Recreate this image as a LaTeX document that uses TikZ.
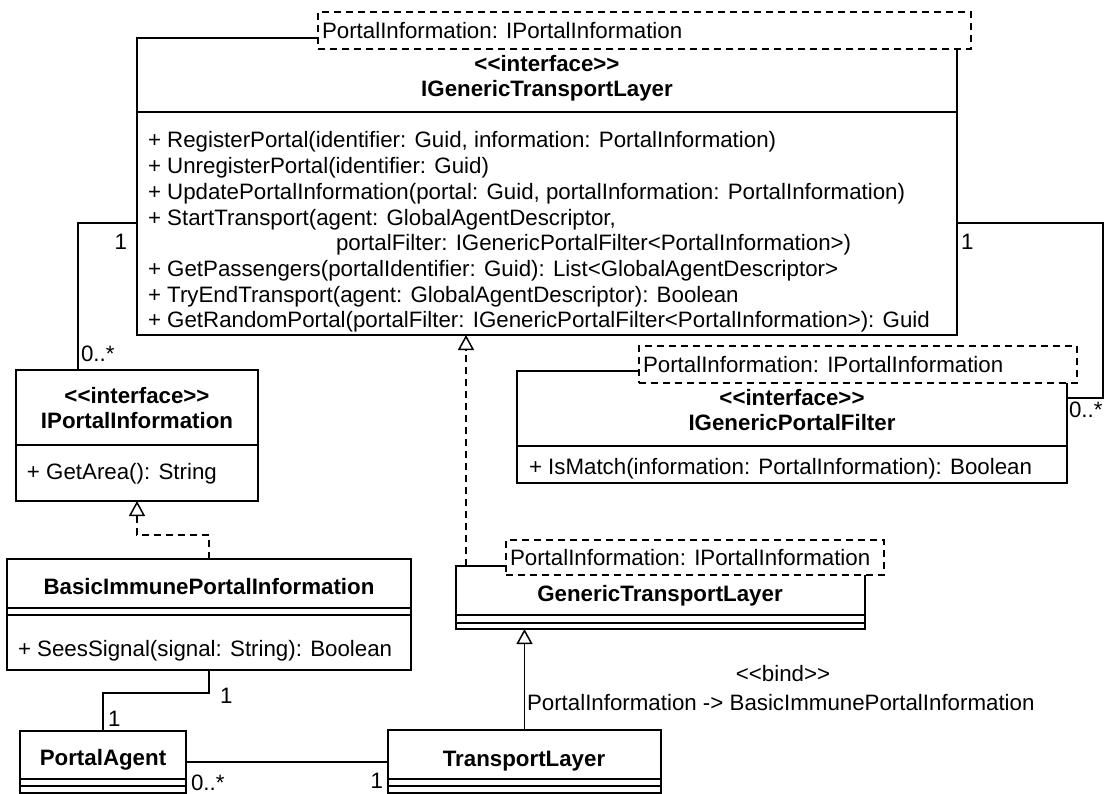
\documentclass[tikz,border=0pt]{standalone}
\usepackage{fontspec}
\setmainfont{Liberation Sans}
\usetikzlibrary{arrows.meta,calc}
\begin{document}
\begin{tikzpicture}[x=1pt,y=-1pt]
\tikzset{
  ln/.style={line width=1.5pt},
  cls/.style={draw, line width=1.5pt, fill=white, inner sep=0pt, outer sep=0pt, anchor=north west},
  tpl/.style={draw, line width=1.5pt, dash pattern=on 7pt off 5pt, fill=white, inner sep=0pt, outer sep=0pt, anchor=north west},
  txt/.style={inner sep=0pt, outer sep=0pt, anchor=west, text height=16pt, text depth=0pt, font=\fontsize{22.3}{26}\selectfont},
  ttl/.style={txt, anchor=center, font=\fontsize{22.3}{26}\selectfont\bfseries},
  real/.style={line width=1.5pt, dash pattern=on 7pt off 5pt, -{Triangle[length=15pt, width=16pt, fill=white]}},
  gen/.style={line width=1.5pt, -{Triangle[length=15pt, width=16pt, fill=white]}},
}
\useasboundingbox (0,0) rectangle (1105,794);

% class boxes
\node[cls, minimum width=820pt, minimum height=297pt] (igtl) at (137,38) {};
\node[cls, minimum width=242pt, minimum height=131pt] (ipi) at (16,370) {};
\node[cls, minimum width=550pt, minimum height=112pt] (igpf) at (517,371) {};
\node[cls, minimum width=404pt, minimum height=111pt] (bipi) at (7,559) {};
\node[cls, minimum width=409pt, minimum height=63pt] (gtl) at (456,566) {};
\node[cls, minimum width=166pt, minimum height=62pt] (pa) at (20,731) {};
\node[cls, minimum width=273pt, minimum height=63pt] (tl) at (388,730) {};

% compartment separators
\draw[ln] (igtl.west |- 0,112) -- (igtl.east |- 0,112);
\draw[ln] (ipi.west |- 0,445) -- (ipi.east |- 0,445);
\draw[ln] (igpf.west |- 0,446) -- (igpf.east |- 0,446);
\draw[ln] (bipi.west |- 0,608) -- (bipi.east |- 0,608);
\draw[ln] (bipi.west |- 0,615) -- (bipi.east |- 0,615);
\draw[ln] (gtl.west |- 0,615) -- (gtl.east |- 0,615);
\draw[ln] (gtl.west |- 0,623) -- (gtl.east |- 0,623);
\draw[ln] (pa.west |- 0,779) -- (pa.east |- 0,779);
\draw[ln] (pa.west |- 0,786) -- (pa.east |- 0,786);
\draw[ln] (tl.west |- 0,779) -- (tl.east |- 0,779);
\draw[ln] (tl.west |- 0,786) -- (tl.east |- 0,786);

% template parameter boxes
\node[tpl, minimum width=653pt, minimum height=37pt] (t1) at (318,12) {};
\node[tpl, minimum width=438pt, minimum height=37pt] (t2) at (639,346) {};
\node[tpl, minimum width=378pt, minimum height=35pt] (t3) at (506,540) {};
\node[txt] (t1l) at ([xshift=4pt]t1.west) {PortalInformation: IPortalInformation};
\node[txt] (t2l) at ([xshift=4pt]t2.west) {PortalInformation: IPortalInformation};
\node[txt] (t3l) at ([xshift=4pt]t3.west) {PortalInformation: IPortalInformation};

% IGenericTransportLayer
\node[ttl] (igtls) at (547,64) {<\kern0pt<interface>\kern0pt>};
\node[ttl] (igtln) at (547,89) {IGenericTransportLayer};
\node[txt] (m1) at (148,140) {+ RegisterPortal(identifier: Guid, information: PortalInformation)};
\node[txt] (m2) at (148,165.7) {+ UnregisterPortal(identifier: Guid)};
\node[txt] (m3) at (148,191.4) {+ UpdatePortalInformation(portal: Guid, portalInformation: PortalInformation)};
\node[txt] (m4) at (148,217.1) {+ StartTransport(agent: GlobalAgentDescriptor,};
\node[txt] (m4b) at (336,242.8) {portalFilter: IGenericPortalFilter<PortalInformation>)};
\node[txt] (m5) at (148,268.5) {+ GetPassengers(portalIdentifier: Guid): List<GlobalAgentDescriptor>};
\node[txt] (m6) at (148,294.2) {+ TryEndTransport(agent: GlobalAgentDescriptor): Boolean};
\node[txt] (m7) at (148,319.9) {+ GetRandomPortal(portalFilter: IGenericPortalFilter<PortalInformation>): Guid};

% IPortalInformation
\node[ttl] (ipis) at (137,395) {<\kern0pt<interface>\kern0pt>};
\node[ttl] (ipin) at (137,420) {IPortalInformation};
\node[txt] (ipim) at (27,471) {+ GetArea(): String};

% IGenericPortalFilter
\node[ttl] (igpfs) at (792,397) {<\kern0pt<interface>\kern0pt>};
\node[ttl] (igpfn) at (792,422) {IGenericPortalFilter};
\node[txt] (igpfm) at (529,466) {+ IsMatch(information: PortalInformation): Boolean};

% BasicImmunePortalInformation
\node[ttl] (bipin) at (209,586) {BasicImmunePortalInformation};
\node[txt] (bipim) at (18,648) {+ SeesSignal(signal: String): Boolean};

% GenericTransportLayer, PortalAgent, TransportLayer
\node[ttl] (gtln) at (660,593) {GenericTransportLayer};
\node[ttl] (pan) at (103,757) {PortalAgent};
\node[ttl] (tln) at (524,758) {TransportLayer};

% associations
\draw[ln] ([yshift=-185pt]igtl.north west) -| ([xshift=62pt]ipi.north west);
\draw[ln] ([yshift=-185pt]igtl.north east) -- ++(146,0) |- ([yshift=-27pt]igpf.north east);
\draw[ln] (bipi.south) -- ++(0,23) -| (pa.north);
\draw[ln] (pa.east) -- (pa.east -| tl.west);

% realizations and generalization
\coordinate (rtop) at ($(gtl.north west)+(10,0)$);
\draw[real] (rtop) -- (rtop |- igtl.south);
\draw[real] (bipi.north) -- ++(0,-24) -| (ipi.south);
\draw[gen] (tl.north) -- (tl.north |- gtl.south);

% multiplicities
\node[txt, anchor=east] (ma1) at (127,242) {1};
\node[txt] (ma2) at (81,353) {0..*};
\node[txt] (mb1) at (961,242) {1};
\node[txt] (mb2) at (1069,409) {0..*};
\node[txt] (mc1) at (220,695) {1};
\node[txt] (mc2) at (108,718) {1};
\node[txt] (md1) at (191,782) {0..*};
\node[txt, anchor=east] (md2) at (383,780) {1};

% binding label
\node[txt, anchor=center] (bind) at (783,673) {<\kern0pt<bind>\kern0pt>};
\node[txt] (bindmap) at (527,702) {PortalInformation -> BasicImmunePortalInformation};
\end{tikzpicture}
\end{document}
